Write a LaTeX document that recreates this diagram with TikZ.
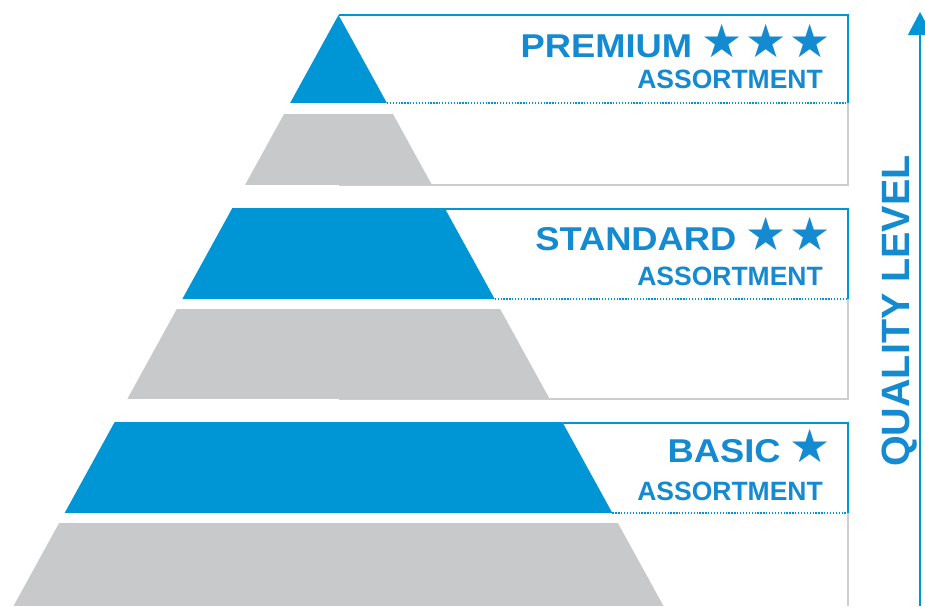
\documentclass[tikz,border=0pt]{standalone}
\usepackage{fontspec}
\setmainfont{Liberation Sans}
\newfontfamily\titlefont[FakeStretch=1.1]{Liberation Sans}
\newfontfamily\symfont{DejaVu Sans}
\newcommand\mystarfont{\symfont\fontsize{46}{46}\selectfont}
\newcommand\stargap{\hspace{3pt}}
\usetikzlibrary{arrows.meta}
\definecolor{pblue}{RGB}{0,150,214}
\definecolor{tblue}{RGB}{20,138,208}
\definecolor{pgray}{RGB}{200,201,203}
\definecolor{lgray}{RGB}{205,205,207}
\tikzset{
  bluefill/.style={fill=pblue},
  grayfill/.style={fill=pgray},
  blueline/.style={draw=pblue,line width=1.3pt},
  grayline/.style={draw=lgray,line width=1.3pt},
  dotline/.style={draw=pblue,line width=1.3pt,dash pattern=on 1.3pt off 1.6pt},
  titletxt/.style={anchor=base east,inner sep=0pt,text=tblue,font=\titlefont\bfseries\fontsize{33}{33}\selectfont},
  subtxt/.style={anchor=base east,inner sep=0pt,text=tblue,font=\bfseries\fontsize{26.5}{26.5}\selectfont}
}
\begin{document}
\begin{tikzpicture}[x=1pt,y=-1pt]
\useasboundingbox (0,0) rectangle (925,606);
\coordinate (apex) at (338.5,15);
% frame lines
\draw[blueline] (apex) -- (848,15) -- (848,103);
\draw[dotline] (386.9,103) -- (848,103);
\draw[grayline] (848,103) -- (848,185) -- (338.5,185);
\draw[blueline] (445.2,209) -- (848,209) -- (848,299);
\draw[dotline] (494.7,299) -- (848,299);
\draw[grayline] (848,299) -- (848,399) -- (338.5,399);
\draw[blueline] (562.9,423) -- (848,423) -- (848,513);
\draw[dotline] (612.4,513) -- (848,513);
\draw[grayline] (848,513) -- (848,606);
% pyramid bands
\begin{scope}
\clip (apex) -- (13.5,606) -- (663.5,606) -- cycle;
\fill[bluefill] (0,0) rectangle (700,103);
\fill[grayfill] (0,113.5) rectangle (700,185);
\fill[bluefill] (0,208.4) rectangle (700,299);
\fill[grayfill] (0,309) rectangle (700,399);
\fill[bluefill] (0,422.4) rectangle (700,513);
\fill[grayfill] (0,523) rectangle (700,606);
\end{scope}
% labels
\node[titletxt] (prem) at (831,57) {PREMIUM\hspace{9pt}{\mystarfont ★\stargap★\stargap★}};
\node[subtxt] (prema) at (823,88) {ASSORTMENT};
\node[titletxt] (stan) at (831,250) {STANDARD\hspace{9pt}{\mystarfont ★\stargap★}};
\node[subtxt] (stana) at (823,285) {ASSORTMENT};
\node[titletxt] (basic) at (831,462) {BASIC\hspace{9pt}{\mystarfont ★}};
\node[subtxt] (basica) at (823,500) {ASSORTMENT};
% quality arrow
\coordinate (qbot) at (920,606);
\coordinate (qtop) at (920,12);
\draw[draw=pblue,line width=1.4pt,-{Triangle[width=24pt,length=23pt]}] (qbot) -- (qtop);
\node[rotate=90,inner sep=0pt,anchor=base,text=tblue,font=\bfseries\fontsize{39.5}{39.5}\selectfont] (ql) at (909,311) {QUALITY LEVEL};
\end{tikzpicture}
\end{document}
